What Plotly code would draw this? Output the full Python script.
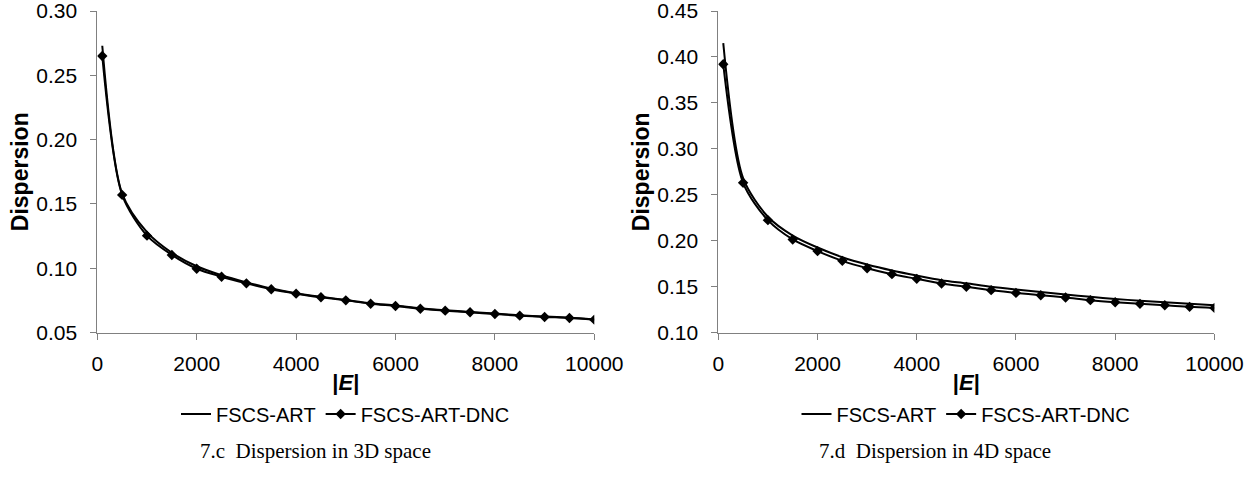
import plotly.graph_objects as go

# Data
E_values = [100, 500, 1000, 1500, 2000, 2500, 3000, 3500, 4000, 4500, 5000,
            5500, 6000, 6500, 7000, 7500, 8000, 8500, 9000, 9500, 10000]

art_3d = [0.273, 0.158, 0.128, 0.112, 0.1015, 0.0945, 0.0890, 0.0842, 0.0806, 0.0778, 0.0753,
          0.0728, 0.0710, 0.0689, 0.0673, 0.0660, 0.0647, 0.0634, 0.0624, 0.0615, 0.0602]
dnc_3d = [0.265, 0.157, 0.1253, 0.1103, 0.0996, 0.0934, 0.0882, 0.0836, 0.0802, 0.0774, 0.0750,
          0.0724, 0.0706, 0.0685, 0.0670, 0.0657, 0.0644, 0.0631, 0.0621, 0.0613, 0.0600]

art_4d = [0.415, 0.268, 0.226, 0.2055, 0.1925, 0.182, 0.174, 0.1675, 0.162, 0.157, 0.1535,
          0.1497, 0.1467, 0.1440, 0.1415, 0.1388, 0.1365, 0.1346, 0.1330, 0.1312, 0.1298]
dnc_4d = [0.392, 0.263, 0.2223, 0.2013, 0.1886, 0.178, 0.170, 0.1635, 0.1584, 0.1534, 0.1497,
          0.1461, 0.1431, 0.1406, 0.1381, 0.1352, 0.1330, 0.1312, 0.1297, 0.1279, 0.1268]

series_names = ["FSCS-ART", "FSCS-ART-DNC"]
captions = ["7.c\u00a0\u00a0Dispersion in 3D space", "7.d\u00a0\u00a0Dispersion in 4D space"]
x_ticks = [0, 2000, 4000, 6000, 8000, 10000]
y_ticks_3d = [0.05, 0.10, 0.15, 0.20, 0.25, 0.30]
y_ticks_4d = [0.10, 0.15, 0.20, 0.25, 0.30, 0.35, 0.40, 0.45]

SANS = "Liberation Sans, Arial, sans-serif"
SERIF = "Liberation Serif, Times New Roman, serif"
W, H = 1259, 477

fig = go.Figure()

def add_pair(art, dnc, xa, ya, leg):
    fig.add_trace(go.Scatter(
        x=E_values, y=art, mode="lines", name=series_names[0],
        line=dict(color="black", width=2, shape="spline", smoothing=0.8),
        xaxis=xa, yaxis=ya, legend=leg))
    fig.add_trace(go.Scatter(
        x=E_values, y=dnc, mode="lines+markers", name=series_names[1],
        line=dict(color="black", width=2, shape="spline", smoothing=0.8),
        marker=dict(symbol="diamond", size=8, color="black"),
        xaxis=xa, yaxis=ya, legend=leg))

add_pair(art_3d, dnc_3d, "x", "y", "legend")
add_pair(art_4d, dnc_4d, "x2", "y2", "legend2")

ydom = [(H - 332.5) / H, (H - 11) / H]
xdom1 = [97.3 / W, 594.3 / W]
xdom2 = [718.3 / W, 1214.4 / W]

axis_common = dict(
    showline=True, linecolor="#808080", linewidth=1,
    ticks="outside", ticklen=6, tickcolor="#808080", tickwidth=1,
    showgrid=False, zeroline=False, automargin=False, ticklabeloverflow="allow",
    tickfont=dict(family=SANS, size=21, color="black"),
)

xtitle = dict(text="<b>|<i>E</i>|</b>", font=dict(family=SANS, size=22, color="black"), standoff=0)
ytitle = dict(text="<b>Dispersion</b>", font=dict(family=SANS, size=23, color="black"), standoff=1)

EPS = 1e-6
fig.update_layout(
    width=W, height=H,
    margin=dict(l=0, r=0, t=0, b=0, autoexpand=False),
    paper_bgcolor="white", plot_bgcolor="white",
    xaxis=dict(domain=xdom1, range=[0, 10000 + EPS], tickvals=x_ticks, tickformat="d", ticklabelstandoff=6,
               title=xtitle, anchor="y", **axis_common),
    yaxis=dict(domain=ydom, range=[0.05 - EPS, 0.30 + EPS], tickvals=y_ticks_3d, tickformat=".2f", ticklabelstandoff=9,
               title=ytitle, anchor="x", **axis_common),
    xaxis2=dict(domain=xdom2, range=[0, 10000 + EPS], tickvals=x_ticks, tickformat="d", ticklabelstandoff=6,
                title=xtitle, anchor="y2", **axis_common),
    yaxis2=dict(domain=ydom, range=[0.10 - EPS, 0.45 + EPS], tickvals=y_ticks_4d, tickformat=".2f", ticklabelstandoff=9,
                title=ytitle, anchor="x2", **axis_common),
    legend=dict(orientation="h", x=345.5 / W, xanchor="center", y=(H - 414) / H, yanchor="middle",
                font=dict(family=SANS, size=20, color="black"), bgcolor="rgba(0,0,0,0)", itemwidth=30),
    legend2=dict(orientation="h", x=966 / W, xanchor="center", y=(H - 414) / H, yanchor="middle",
                 font=dict(family=SANS, size=20, color="black"), bgcolor="rgba(0,0,0,0)", itemwidth=30),
    showlegend=True,
)

for cx, text in zip([315 / W, 935 / W], captions):
    fig.add_annotation(x=cx, y=(H - 451) / H, xref="paper", yref="paper",
                       text=text, showarrow=False, xanchor="center", yanchor="middle",
                       font=dict(family=SERIF, size=21, color="black"))

fig.write_html("out.html")
